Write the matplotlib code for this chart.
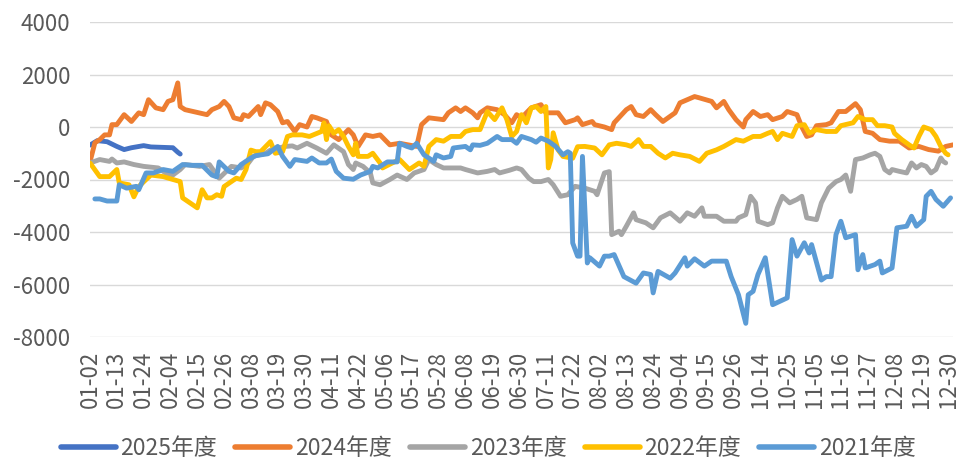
import matplotlib
matplotlib.use("Agg")
import matplotlib.pyplot as plt
from matplotlib.ticker import FixedLocator

plt.rcParams['font.family'] = ['Noto Sans CJK SC', 'DejaVu Sans']
plt.rcParams['axes.unicode_minus'] = False

# x axis: trading-day categories (month-day), labelled every 11th
tick_labels = ['01-02', '01-13', '01-24', '02-04', '02-15', '02-26', '03-08', '03-19',
               '03-30', '04-11', '04-22', '05-06', '05-17', '05-28', '06-08', '06-19',
               '06-30', '07-11', '07-22', '08-02', '08-13', '08-24', '09-04', '09-15',
               '09-26', '10-14', '10-25', '11-05', '11-16', '11-27', '12-08', '12-19',
               '12-30']
tick_step = 11
last_day = 354

# series: day index -> value
x_2025 = [0, 3, 7, 11, 14, 17, 22, 25, 34, 36, 37]
y_2025 = [-690, -520, -560, -740, -860, -790, -710, -760, -790, -960, -1030]

x_2024 = [0, 2, 4, 6, 8, 9, 11, 14, 17, 20, 22, 24, 27, 30, 32, 34, 36, 37, 39, 48,
          50, 53, 55, 57, 59, 62, 63, 65, 69, 70, 72, 74, 77, 79, 81, 84, 86, 89, 91, 93,
          97, 99, 102, 106, 108, 110, 113, 116, 119, 123, 127, 134, 136, 139, 145, 147, 150, 152, 154, 157,
          159, 160, 163, 167, 170, 173, 175, 177, 181, 185, 187, 192, 195, 199, 200, 202, 206, 207, 211, 214,
          215, 220, 222, 224, 227, 230, 232, 235, 240, 242, 245, 248, 250, 255, 257, 260, 262, 265, 268, 269,
          272, 275, 278, 280, 284, 286, 290, 292, 294, 296, 298, 302, 304, 307, 310, 314, 316, 318, 321, 324,
          328, 332, 336, 340, 344, 348, 351, 354]
y_2024 = [-1330, -600, -480, -300, -300, 90, 90, 470, 210, 540, 470, 1040, 730, 660, 975, 1040, 1680, 780, 660, 470,
          660, 780, 975, 780, 350, 280, 470, 400, 780, 470, 920, 850, 590, 160, 210, -170, 90, 0, 400, 350,
          210, -300, -480, -100, -300, -740, -300, -360, -300, -680, -620, -740, 90, 350, 280, 540, 730, 590, 730, 540,
          350, 540, 730, 660, 470, 160, 470, 350, 730, 850, 540, 540, 160, 280, 350, 90, 210, 90, 0, -100,
          160, 660, 780, 470, 400, 660, 470, 210, 540, 920, 1040, 1160, 1110, 975, 730, 975, 660, 280, 0, 280,
          590, 400, 470, 280, 400, 590, 470, 0, -360, -300, 50, 90, 160, 590, 590, 890, 660, -170, -240, -480,
          -540, -540, -800, -740, -860, -920, -740, -680]

x_2023 = [0, 4, 8, 9, 11, 14, 18, 22, 28, 31, 34, 37, 39, 45, 49, 52, 53, 58, 62, 65,
          67, 72, 74, 80, 83, 85, 89, 93, 97, 100, 104, 106, 108, 109, 112, 115, 116, 119, 123, 126,
          130, 133, 137, 139, 142, 145, 149, 152, 154, 159, 163, 166, 168, 172, 175, 177, 180, 182, 185, 188,
          190, 193, 196, 199, 203, 207, 208, 211, 213, 214, 217, 218, 220, 223, 224, 228, 231, 234, 238, 242,
          245, 248, 251, 252, 257, 260, 265, 266, 269, 271, 273, 274, 278, 280, 282, 284, 287, 290, 292, 294,
          298, 300, 303, 306, 308, 310, 312, 314, 317, 320, 322, 324, 326, 328, 329, 332, 335, 337, 339, 341,
          343, 345, 347, 349, 350, 351]
y_2023 = [-1370, -1240, -1310, -1220, -1370, -1330, -1430, -1500, -1560, -1750, -1830, -1620, -1430, -1500, -1430, -1830, -1950, -1500, -1560, -1370,
          -1120, -1000, -880, -740, -720, -800, -620, -800, -1000, -680, -940, -1430, -1620, -1370, -1500, -1750, -2130, -2200, -2000, -1830,
          -2000, -1750, -1620, -1240, -1430, -1560, -1560, -1560, -1620, -1750, -1690, -1620, -1750, -1650, -1560, -1620, -1950, -2080, -2080, -2000,
          -2200, -2640, -2580, -2260, -2330, -2450, -2580, -1750, -1700, -4100, -3970, -4100, -3780, -3270, -3530, -3650, -3840, -3460, -3270, -3590,
          -3270, -3400, -3080, -3400, -3400, -3590, -3590, -3460, -3340, -2640, -2890, -3590, -3720, -3650, -3080, -2640, -2890, -2760, -2640, -3460,
          -3530, -2890, -2330, -2080, -2000, -1830, -2450, -1240, -1180, -1060, -1000, -1120, -1620, -1750, -1620, -1690, -1750, -1370, -1560, -1430,
          -1500, -1750, -1620, -1180, -1310, -1370]

x_2022 = [0, 4, 8, 11, 12, 16, 18, 20, 23, 25, 30, 37, 38, 41, 44, 46, 48, 50, 52, 54,
          55, 58, 60, 62, 64, 66, 68, 70, 72, 74, 76, 79, 81, 83, 87, 90, 95, 96, 97, 98,
          100, 102, 104, 106, 108, 109, 110, 114, 116, 119, 120, 124, 127, 131, 135, 137, 139, 142, 145, 148,
          152, 154, 157, 160, 163, 166, 169, 171, 173, 175, 177, 179, 181, 183, 185, 187, 188, 189, 190, 192,
          194, 198, 200, 203, 207, 210, 213, 216, 220, 222, 225, 227, 230, 233, 236, 239, 242, 246, 250, 253,
          257, 260, 265, 268, 272, 275, 278, 280, 282, 284, 286, 288, 290, 293, 295, 298, 302, 306, 308, 313,
          315, 318, 321, 323, 326, 329, 330, 333, 336, 338, 340, 342, 345, 347, 349, 351, 352]
y_2022 = [-1370, -1890, -1890, -1620, -2130, -2200, -2660, -2270, -2000, -1830, -1890, -2080, -2700, -2890, -3080, -2390, -2700, -2700, -2580, -2640,
          -2270, -2080, -1950, -2000, -1620, -880, -940, -940, -750, -560, -1000, -940, -360, -300, -300, -360, -170, 160, -480, 50,
          -240, -100, -360, -740, -1060, -620, -1120, -1120, -1000, -1370, -1560, -1370, -1240, -1620, -1370, -1500, -740, -480, -540, -360,
          -360, -170, -100, -100, 590, 280, 730, 280, -360, -170, 470, 160, 730, 780, 590, 780, -1560, -1240, -220, -870,
          -1120, -1190, -750, -740, -800, -1060, -680, -620, -680, -740, -480, -740, -740, -1000, -1180, -1000, -1060, -1120, -1310, -1000,
          -870, -740, -480, -540, -360, -360, -240, -170, -480, -240, -300, -360, 50, 90, -240, -100, -170, -170, 50, 160,
          400, 280, 280, 50, 50, 0, -240, -480, -680, -800, -360, 0, -100, -360, -740, -1000, -1060]

x_2021 = [2, 4, 7, 11, 12, 15, 19, 20, 23, 26, 30, 34, 38, 42, 46, 50, 52, 53, 57, 59,
          62, 66, 68, 73, 77, 79, 82, 84, 89, 91, 94, 97, 99, 101, 104, 108, 111, 115, 116, 118,
          122, 126, 127, 130, 132, 134, 137, 141, 142, 145, 148, 149, 154, 156, 157, 160, 163, 167, 169, 173,
          175, 177, 181, 183, 185, 188, 191, 194, 196, 197, 198, 200, 201, 202, 204, 205, 209, 211, 213, 215,
          219, 224, 227, 230, 231, 233, 238, 240, 244, 245, 248, 252, 255, 261, 263, 266, 269, 270, 272, 274,
          277, 280, 283, 286, 288, 290, 293, 295, 296, 300, 302, 304, 306, 308, 310, 314, 315, 317, 318, 322,
          324, 325, 329, 331, 335, 337, 339, 342, 343, 345, 347, 350, 353]
y_2021 = [-2740, -2740, -2820, -2820, -2200, -2330, -2260, -2390, -1750, -1750, -1620, -1690, -1430, -1460, -1460, -1830, -1900, -1330, -1690, -1750,
          -1430, -1180, -1090, -1020, -740, -1120, -1500, -1240, -1310, -1180, -1370, -1370, -1220, -1690, -1950, -1990, -1830, -1690, -1500, -1560,
          -1330, -1330, -620, -740, -800, -620, -1060, -1310, -1060, -1180, -1120, -800, -740, -870, -680, -700, -620, -360, -480, -480,
          -620, -360, -480, -580, -420, -540, -740, -1060, -940, -1000, -4420, -4920, -4920, -1120, -5180, -4980, -5300, -4920, -4920, -4860,
          -5700, -5950, -5560, -5620, -6320, -5500, -5760, -5560, -4980, -5300, -5020, -5300, -5110, -5110, -5700, -6390, -7480, -6390, -6260, -5620,
          -4980, -6770, -6640, -6510, -4290, -4920, -4410, -4800, -4480, -5830, -5700, -5700, -4100, -3590, -4220, -4100, -5440, -4860, -5370, -5240,
          -5110, -5560, -5370, -3840, -3780, -3400, -3780, -3530, -2640, -2450, -2760, -3020, -2700]

series = [
    ('2025年度', x_2025, y_2025, '#4472C4'),
    ('2024年度', x_2024, y_2024, '#ED7D31'),
    ('2023年度', x_2023, y_2023, '#A5A5A5'),
    ('2022年度', x_2022, y_2022, '#FFC000'),
    ('2021年度', x_2021, y_2021, '#5B9BD5'),
]

fig = plt.figure(figsize=(9.63, 4.62), dpi=100)
ax = fig.add_axes([90 / 963, 1 - 337 / 462, 863 / 963, 315 / 462])

for name, xs, ys, color in series:
    ax.plot(xs, ys, color=color, linewidth=3.5, label=name,
            solid_capstyle='round', solid_joinstyle='round')

ax.set_xlim(0, last_day)
ax.set_ylim(-8000, 4000)
ax.set_yticks(range(-8000, 4001, 2000))
ax.xaxis.set_major_locator(FixedLocator(range(0, tick_step * len(tick_labels), tick_step)))
ax.set_xticklabels(tick_labels, rotation=90)

ax.grid(axis='y', color='#D9D9D9', linewidth=1.0)
ax.set_axisbelow(True)
for spine in ax.spines.values():
    spine.set_visible(False)
ax.tick_params(axis='both', length=0, labelsize=16, labelcolor='#595959')
ax.tick_params(axis='y', pad=14)
ax.tick_params(axis='x', pad=10)

leg = fig.legend(loc='center', bbox_to_anchor=(0.507, 0.03), ncol=5, frameon=False,
                 fontsize=16.5, handlelength=2.4, handletextpad=0.2, columnspacing=0.8,
                 labelcolor='#595959')
for line in leg.get_lines():
    line.set_linewidth(4)

fig.savefig('out.png', dpi=100)
